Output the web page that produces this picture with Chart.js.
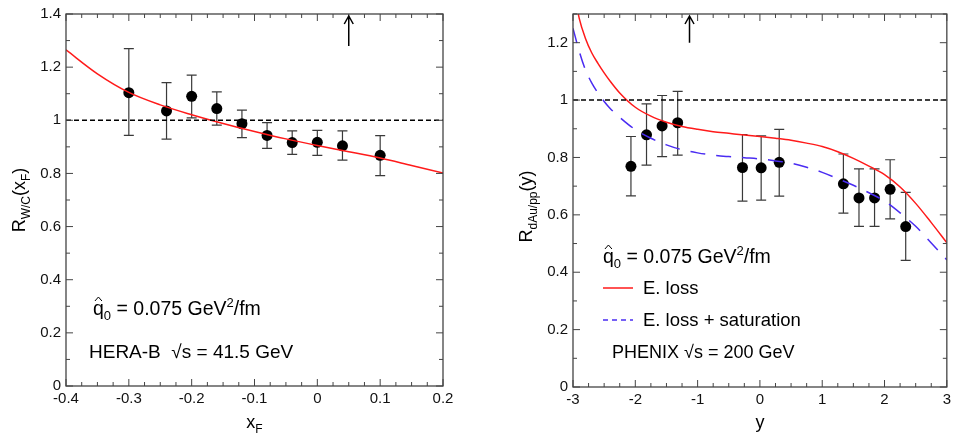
<!DOCTYPE html>
<html>
<head>
<meta charset="utf-8">
<script src="https://cdn.jsdelivr.net/npm/chart.js@4.4.1/dist/chart.umd.min.js"></script>
<style>
  body { margin: 0; background: #fff; width: 955px; height: 442px; overflow: hidden; position: relative; }
  canvas { position: absolute; top: 0; }
  #left { left: 0; }
  #right { left: 480px; }
</style>
</head>
<body>
<canvas id="left" width="470" height="442"></canvas>
<canvas id="right" width="475" height="442"></canvas>
<script>
// ---- left panel: HERA-B, R_W/C vs x_F ----
const heraX = [-0.3, -0.24, -0.2, -0.16, -0.12, -0.08, -0.04, 0, 0.04, 0.1];
const heraR = [1.104, 1.035, 1.09, 1.044, 0.987, 0.943, 0.916, 0.917, 0.904, 0.868];
const heraHi = [1.27, 1.142, 1.17, 1.107, 1.038, 0.991, 0.96, 0.962, 0.96, 0.942];
const heraLo = [0.943, 0.929, 1.009, 0.982, 0.935, 0.894, 0.872, 0.868, 0.85, 0.792];
const heraCurveX = [-0.4, -0.35, -0.3, -0.25, -0.2, -0.15, -0.1, -0.05, 0, 0.05, 0.1, 0.15, 0.2];
const heraCurveY = [1.265, 1.175, 1.105, 1.058, 1.021, 0.988, 0.958, 0.93, 0.905, 0.882, 0.858, 0.83, 0.802];
const heraXTicks = [-0.4, -0.3, -0.2, -0.1, 0, 0.1, 0.2];
const heraYTicks = [0, 0.2, 0.4, 0.6, 0.8, 1, 1.2, 1.4];
const heraArrow = [0.05, 1.28, 1.4]; // x, from, to

// ---- right panel: PHENIX, R_dAu/pp vs y ----
const phenixX = [-2.07, -1.82, -1.57, -1.32, -0.28, 0.02, 0.31, 1.34, 1.59, 1.84, 2.09, 2.34];
const phenixR = [0.769, 0.879, 0.91, 0.921, 0.765, 0.764, 0.783, 0.708, 0.659, 0.659, 0.689, 0.559];
const phenixHi = [0.873, 0.987, 1.016, 1.03, 0.88, 0.875, 0.898, 0.812, 0.76, 0.76, 0.792, 0.678];
const phenixLo = [0.666, 0.773, 0.803, 0.808, 0.648, 0.651, 0.665, 0.606, 0.56, 0.56, 0.586, 0.441];
const curveY = [-3, -2.9, -2.8, -2.7, -2.6, -2.5, -2.4, -2.25, -2, -1.75, -1.5, -1.25, -1, -0.75, -0.5, -0.25, 0, 0.25, 0.5, 0.75, 1, 1.25, 1.5, 1.75, 2, 2.25, 2.5, 2.75, 3];
const elossR = [1.40, 1.285, 1.215, 1.165, 1.128, 1.095, 1.065, 1.025, 0.975, 0.944, 0.923, 0.908, 0.898, 0.89, 0.884, 0.878, 0.873, 0.867, 0.86, 0.85, 0.838, 0.82, 0.797, 0.77, 0.74, 0.697, 0.64, 0.573, 0.503];
const satR = [1.25, 1.17, 1.105, 1.06, 1.025, 0.995, 0.97, 0.94, 0.897, 0.867, 0.844, 0.827, 0.816, 0.808, 0.803, 0.799, 0.795, 0.788, 0.78, 0.766, 0.748, 0.726, 0.703, 0.677, 0.648, 0.607, 0.56, 0.502, 0.443];
const phenixXTicks = [-3, -2, -1, 0, 1, 2, 3];
const phenixYTicks = [0, 0.2, 0.4, 0.6, 0.8, 1, 1.2];
const phenixArrow = [-1.13, 1.2, 1.3];

const FONT = '"Liberation Sans", Arial, Helvetica, sans-serif';
const RED = '#ff1a1a';
const BLUE = '#4a2cf2';

function pts(xs, ys) {
  return xs.map((x, i) => ({ x: x, y: ys[i] }));
}

// draw a run of text pieces [text, size, dy]; returns end x
function rich(ctx, x, y, parts, measureOnly) {
  for (const [t, size, dy] of parts) {
    ctx.font = size + 'px ' + FONT;
    if (!measureOnly) ctx.fillText(t, x, y + (dy || 0));
    x += ctx.measureText(t).width;
  }
  return x;
}

function hat(ctx, x, y, size) {
  ctx.font = size + 'px ' + FONT;
  const cx = x + ctx.measureText('q').width / 2;
  ctx.beginPath();
  ctx.moveTo(cx - 3.5, y - 14);
  ctx.lineTo(cx, y - 18);
  ctx.lineTo(cx + 3.5, y - 14);
  ctx.lineWidth = 1;
  ctx.strokeStyle = '#000';
  ctx.stroke();
}

const decor = {
  id: 'decor',
  beforeDatasetsDraw(chart, args, o) {
    const ctx = chart.ctx, xs = chart.scales.x, ys = chart.scales.y;
    ctx.save();
    ctx.strokeStyle = '#3a3a3a';
    ctx.lineWidth = 1.2;
    o.errX.forEach((x, i) => {
      const px = xs.getPixelForValue(x);
      const top = ys.getPixelForValue(o.errHi[i]);
      const bot = ys.getPixelForValue(o.errLo[i]);
      ctx.beginPath();
      ctx.moveTo(px, top); ctx.lineTo(px, bot);
      ctx.moveTo(px - 5, top); ctx.lineTo(px + 5, top);
      ctx.moveTo(px - 5, bot); ctx.lineTo(px + 5, bot);
      ctx.stroke();
    });
    ctx.restore();
  },
  afterDraw(chart, args, o) {
    const ctx = chart.ctx, a = chart.chartArea;
    const xs = chart.scales.x, ys = chart.scales.y;
    ctx.save();
    // frame
    ctx.strokeStyle = '#444';
    ctx.lineWidth = 1.3;
    ctx.strokeRect(a.left, a.top, a.right - a.left, a.bottom - a.top);
    // inward ticks on all four sides
    ctx.lineWidth = 1;
    ctx.beginPath();
    let n = Math.round((xs.max - xs.min) / o.xMinor);
    for (let i = 0; i <= n; i++) {
      const v = xs.min + i * o.xMinor;
      const r = v / o.xMajor;
      const len = Math.abs(r - Math.round(r)) < 1e-6 ? 7 : 4;
      const px = xs.getPixelForValue(v);
      ctx.moveTo(px, a.bottom); ctx.lineTo(px, a.bottom - len);
      ctx.moveTo(px, a.top); ctx.lineTo(px, a.top + len);
    }
    n = Math.round((ys.max - ys.min) / o.yMinor);
    for (let i = 0; i <= n; i++) {
      const v = ys.min + i * o.yMinor;
      const r = v / o.yMajor;
      const len = Math.abs(r - Math.round(r)) < 1e-6 ? 7 : 4;
      const py = ys.getPixelForValue(v);
      ctx.moveTo(a.left, py); ctx.lineTo(a.left + len, py);
      ctx.moveTo(a.right, py); ctx.lineTo(a.right - len, py);
    }
    ctx.stroke();

    // arrow
    const ax = xs.getPixelForValue(o.arrow[0]);
    const ay0 = ys.getPixelForValue(o.arrow[1]);
    const ay1 = ys.getPixelForValue(o.arrow[2]) + 2;
    ctx.strokeStyle = '#000';
    ctx.lineWidth = 1.5;
    ctx.beginPath();
    ctx.moveTo(ax, ay0); ctx.lineTo(ax, ay1);
    ctx.moveTo(ax - 4.5, ay1 + 8); ctx.lineTo(ax, ay1); ctx.lineTo(ax + 4.5, ay1 + 8);
    ctx.stroke();

    ctx.fillStyle = '#000';
    ctx.textBaseline = 'alphabetic';
    ctx.textAlign = 'left';

    // axis titles
    const cx = (a.left + a.right) / 2;
    let w = rich(ctx, 0, 0, o.xTitle, true);
    rich(ctx, cx - w / 2, 428, o.xTitle);
    const cy = (a.top + a.bottom) / 2 + o.yTitleShift;
    w = rich(ctx, 0, 0, o.yTitle, true);
    ctx.save();
    ctx.translate(a.left - 41, cy);
    ctx.rotate(-Math.PI / 2);
    rich(ctx, -w / 2, 0, o.yTitle);
    ctx.restore();

    // q-hat annotation
    const [qx, qy] = o.qPos;
    hat(ctx, qx, qy, 19.5);
    rich(ctx, qx, qy, [['q', 19.5], ['0', 13, 5], [' = 0.075 GeV', 19.5], ['2', 13, -8], ['/fm', 19.5]]);

    // legend lines (right panel only)
    if (o.legend) {
      const lx = o.legend[0], ly = o.legend[1];
      ctx.lineWidth = 1.5;
      ctx.strokeStyle = RED;
      ctx.beginPath(); ctx.moveTo(lx, ly); ctx.lineTo(lx + 30, ly); ctx.stroke();
      ctx.font = '18.5px ' + FONT;
      ctx.fillText('E. loss', lx + 40, ly + 6);
      ctx.strokeStyle = BLUE;
      ctx.setLineDash([5, 4]);
      ctx.beginPath(); ctx.moveTo(lx, ly + 32); ctx.lineTo(lx + 30, ly + 32); ctx.stroke();
      ctx.setLineDash([]);
      ctx.fillText('E. loss + saturation', lx + 40, ly + 38);
    }
    ctx.font = o.expSize + 'px ' + FONT;
    ctx.fillText(o.expText, o.expPos[0], o.expPos[1]);
    ctx.restore();
  }
};

function tickFmt(v) { return String(+Number(v).toFixed(2)); }

function makeChart(id, cfg) {
  const datasets = [
    { data: [{ x: cfg.xMin, y: 1 }, { x: cfg.xMax, y: 1 }], showLine: true, borderColor: '#000',
      borderWidth: 1.5, borderDash: [5, 3], pointRadius: 0 }
  ].concat(cfg.curves).concat([
    { data: pts(cfg.px, cfg.py), pointRadius: 5.5, backgroundColor: '#000', borderWidth: 0, pointStyle: 'circle' }
  ]);
  return new Chart(document.getElementById(id), {
    type: 'scatter',
    data: { datasets: datasets },
    options: {
      responsive: false,
      animation: false,
      devicePixelRatio: 1,
      layout: { padding: { top: cfg.padTop, right: cfg.padRight, left: 0, bottom: 0 } },
      plugins: { legend: { display: false }, tooltip: { enabled: false }, decor: cfg.decor },
      scales: {
        x: {
          type: 'linear', min: cfg.xMin, max: cfg.xMax,
          grid: { display: false, drawTicks: false }, border: { display: false },
          afterBuildTicks: (s) => { s.ticks = cfg.xTicks.map(v => ({ value: v })); },
          afterFit: (s) => { s.height = cfg.xHeight; },
          ticks: { padding: 4, color: '#111', font: { family: FONT, size: 15 }, callback: tickFmt, maxRotation: 0 }
        },
        y: {
          type: 'linear', min: cfg.yMin, max: cfg.yMax,
          grid: { display: false, drawTicks: false }, border: { display: false },
          afterBuildTicks: (s) => { s.ticks = cfg.yTicks.map(v => ({ value: v })); },
          afterFit: (s) => { s.width = cfg.yWidth; },
          ticks: { padding: 5, color: '#111', font: { family: FONT, size: 15 }, callback: tickFmt }
        }
      }
    },
    plugins: [decor]
  });
}

makeChart('left', {
  xMin: -0.4, xMax: 0.2, yMin: 0, yMax: 1.4,
  xTicks: heraXTicks, yTicks: heraYTicks,
  padTop: 9, padRight: 27, xHeight: 56, yWidth: 66,
  px: heraX, py: heraR,
  curves: [
    { data: pts(heraCurveX, heraCurveY), showLine: true, borderColor: RED, borderWidth: 1.5,
      pointRadius: 0, cubicInterpolationMode: 'monotone' }
  ],
  decor: {
    errX: heraX, errHi: heraHi, errLo: heraLo,
    xMinor: 0.025, xMajor: 0.1, yMinor: 0.1, yMajor: 0.2,
    arrow: heraArrow,
    xTitle: [['x', 18], ['F', 12, 5]],
    yTitle: [['R', 18], ['W/C', 12, 5], ['(x', 18], ['F', 12, 5], [')', 18]],
    yTitleShift: 0,
    qPos: [93, 315],
    expText: 'HERA-B  \u221As = 41.5 GeV', expPos: [89, 358], expSize: 19
  }
});

makeChart('right', {
  xMin: -3, xMax: 3, yMin: 0, yMax: 1.3,
  xTicks: phenixXTicks, yTicks: phenixYTicks,
  padTop: 10, padRight: 8, xHeight: 55, yWidth: 93,
  px: phenixX, py: phenixR,
  curves: [
    { data: pts(curveY, elossR), showLine: true, borderColor: RED, borderWidth: 1.5,
      pointRadius: 0, cubicInterpolationMode: 'monotone' },
    { data: pts(curveY, satR), showLine: true, borderColor: BLUE, borderWidth: 1.5, borderDash: [15, 11],
      pointRadius: 0, cubicInterpolationMode: 'monotone' }
  ],
  decor: {
    errX: phenixX, errHi: phenixHi, errLo: phenixLo,
    xMinor: 0.25, xMajor: 1, yMinor: 0.1, yMajor: 0.2,
    arrow: phenixArrow,
    xTitle: [['y', 18]],
    yTitle: [['R', 18], ['dAu/pp', 12, 5], ['(y)', 18]],
    yTitleShift: 6,
    qPos: [123, 263],
    legend: [123, 288],
    expText: 'PHENIX \u221As = 200 GeV', expPos: [132, 358], expSize: 18
  }
});
</script>
</body>
</html>
